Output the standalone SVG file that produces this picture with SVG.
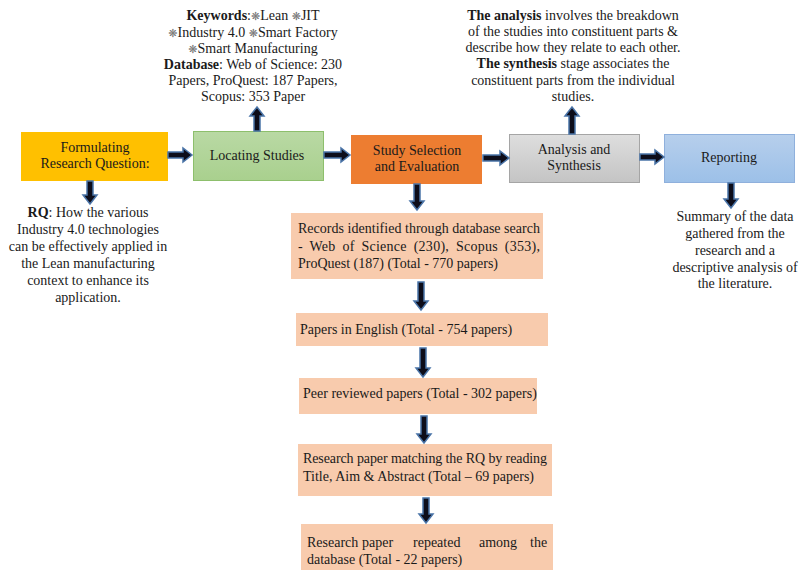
<svg xmlns="http://www.w3.org/2000/svg" width="803" height="572" viewBox="0 0 803 572">
<defs>
<linearGradient id="gGray" x1="0" y1="0" x2="0" y2="1"><stop offset="0" stop-color="#dedede"/><stop offset="1" stop-color="#c4c4c4"/></linearGradient>
<linearGradient id="gBlue" x1="0" y1="0" x2="0" y2="1"><stop offset="0" stop-color="#b7cfec"/><stop offset="1" stop-color="#9cc0e8"/></linearGradient>
<linearGradient id="gGreen" x1="0" y1="0" x2="0" y2="1"><stop offset="0" stop-color="#b9d9a4"/><stop offset="1" stop-color="#a9d08e"/></linearGradient>
</defs>
<style>
text{font-family:"Liberation Serif","Times New Roman",serif;font-size:14px;fill:#1a1a1a}
.c{text-anchor:middle}
.b{font-weight:bold}
.sym{font-family:"DejaVu Sans",sans-serif;font-size:11px;fill:#777}
.peach{fill:#f8cbad}
.arr{fill:#0d0d1a;stroke:#4a74a8;stroke-width:1.5;stroke-linejoin:miter}
</style>
<rect width="803" height="572" fill="#ffffff"/>

<g id="keywords">
<text class="c" x="253" y="20"><tspan class="b">Keywords</tspan>:<tspan class="sym">❋</tspan>Lean <tspan class="sym">❋</tspan>JIT</text>
<text class="c" x="253" y="37"><tspan class="sym">❋</tspan>Industry 4.0  <tspan class="sym">❋</tspan>Smart Factory</text>
<text class="c" x="253" y="53"><tspan class="sym">❋</tspan>Smart Manufacturing</text>
<text class="c" x="253" y="69"><tspan class="b">Database</tspan>: Web of Science: 230</text>
<text class="c" x="253" y="85">Papers, ProQuest: 187 Papers,</text>
<text class="c" x="253" y="101">Scopus: 353 Paper</text>
</g>

<g id="analysis-note">
<text class="c" x="573" y="20"><tspan class="b">The analysis</tspan> involves the breakdown</text>
<text class="c" x="573" y="36">of the studies into constituent parts &amp;</text>
<text class="c" x="573" y="52">describe how they relate to each other.</text>
<text class="c" x="573" y="68"><tspan class="b">The synthesis</tspan> stage associates the</text>
<text class="c" x="573" y="85">constituent parts from the individual</text>
<text class="c" x="573" y="101">studies.</text>
</g>

<g id="formulating">
<rect x="21" y="132" width="147" height="49" fill="#ffc000"/>
<text class="c" x="95" y="152">Formulating</text>
<text class="c" x="95" y="168">Research Question:</text>
</g>

<g id="locating">
<rect x="193.5" y="131.5" width="130" height="49" fill="url(#gGreen)" stroke="#8dbf6c" stroke-width="1"/>
<text class="c" x="257" y="160">Locating Studies</text>
</g>

<g id="selection">
<rect x="351" y="135" width="131" height="49" fill="#ed7d31"/>
<text class="c" x="417" y="155">Study Selection</text>
<text class="c" x="417" y="171">and Evaluation</text>
</g>

<g id="analysis">
<rect x="509.5" y="134.5" width="130" height="48" fill="url(#gGray)" stroke="#a5a5a5" stroke-width="1"/>
<text class="c" x="574" y="154">Analysis and</text>
<text class="c" x="574" y="170">Synthesis</text>
</g>

<g id="reporting">
<rect x="664.5" y="134.5" width="130" height="48" fill="url(#gBlue)" stroke="#8fb0dc" stroke-width="1"/>
<text class="c" x="729" y="162">Reporting</text>
</g>

<g id="rq">
<text class="c" x="88" y="217"><tspan class="b">RQ</tspan>: How the various</text>
<text class="c" x="88" y="234">Industry 4.0 technologies</text>
<text class="c" x="88" y="251">can be effectively applied in</text>
<text class="c" x="88" y="268">the Lean manufacturing</text>
<text class="c" x="88" y="285">context to enhance its</text>
<text class="c" x="88" y="302">application.</text>
</g>

<g id="summary">
<text class="c" x="735" y="221">Summary of the data</text>
<text class="c" x="735" y="238">gathered from the</text>
<text class="c" x="735" y="255">research and a</text>
<text class="c" x="735" y="272">descriptive analysis of</text>
<text class="c" x="735" y="288">the literature.</text>
</g>

<g id="records">
<rect class="peach" x="291" y="213" width="252" height="66"/>
<text x="298" y="233" textLength="242" lengthAdjust="spacing">Records identified through database search</text>
<text x="298" y="251" textLength="242" lengthAdjust="spacing" word-spacing="3">- Web of Science (230), Scopus (353),</text>
<text x="298" y="268">ProQuest (187) (Total - 770 papers)</text>
</g>

<g id="english">
<rect class="peach" x="296" y="313" width="252" height="33"/>
<text x="300" y="334">Papers in English (Total - 754 papers)</text>
</g>

<g id="peer">
<rect class="peach" x="299" y="378" width="238" height="36"/>
<text x="303" y="398">Peer reviewed papers (Total - 302 papers)</text>
</g>

<g id="matching">
<rect class="peach" x="298" y="444" width="254" height="52"/>
<text x="303" y="463" textLength="244" lengthAdjust="spacing">Research paper matching the RQ by reading</text>
<text x="303" y="481">Title, Aim &amp; Abstract (Total – 69 papers)</text>
</g>

<g id="repeated">
<rect class="peach" x="301" y="524" width="252" height="46"/>
<text y="547"><tspan x="307">Research</tspan><tspan x="362">paper</tspan><tspan x="413">repeated</tspan><tspan x="479">among</tspan><tspan x="530">the</tspan></text>
<text x="307" y="564">database (Total - 22 papers)</text>
</g>

<g id="connectors">
<path class="arr" d="M168 152 H183 V148 L192 155 L183 162 V158 H168 Z"/>
<path class="arr" d="M324 152 H341 V148 L350 155 L341 162 V158 H324 Z"/>
<path class="arr" d="M483 155 H500 V151 L509 158 L500 165 V161 H483 Z"/>
<path class="arr" d="M640 154 H655 V150 L664 157 L655 164 V160 H640 Z"/>
<path class="arr" d="M254 131 V116 H250 L257 107 L264 116 H260 V131 Z"/>
<path class="arr" d="M569 134 V116 H565 L572 107 L579 116 H575 V134 Z"/>
<path class="arr" d="M87 181 V195 H83 L90 204 L97 195 H93 V181 Z"/>
<path class="arr" d="M414 184 V201 H410 L417 210 L424 201 H420 V184 Z"/>
<path class="arr" d="M728 183 V199 H724 L731 208 L738 199 H734 V183 Z"/>
<path class="arr" d="M418 282 V301 H414 L421 310 L428 301 H424 V282 Z"/>
<path class="arr" d="M420 348 V368 H416 L423 377 L430 368 H426 V348 Z"/>
<path class="arr" d="M421 416 V434 H417 L424 443 L431 434 H427 V416 Z"/>
<path class="arr" d="M423 498 V514 H419 L426 523 L433 514 H429 V498 Z"/>
</g>
</svg>
